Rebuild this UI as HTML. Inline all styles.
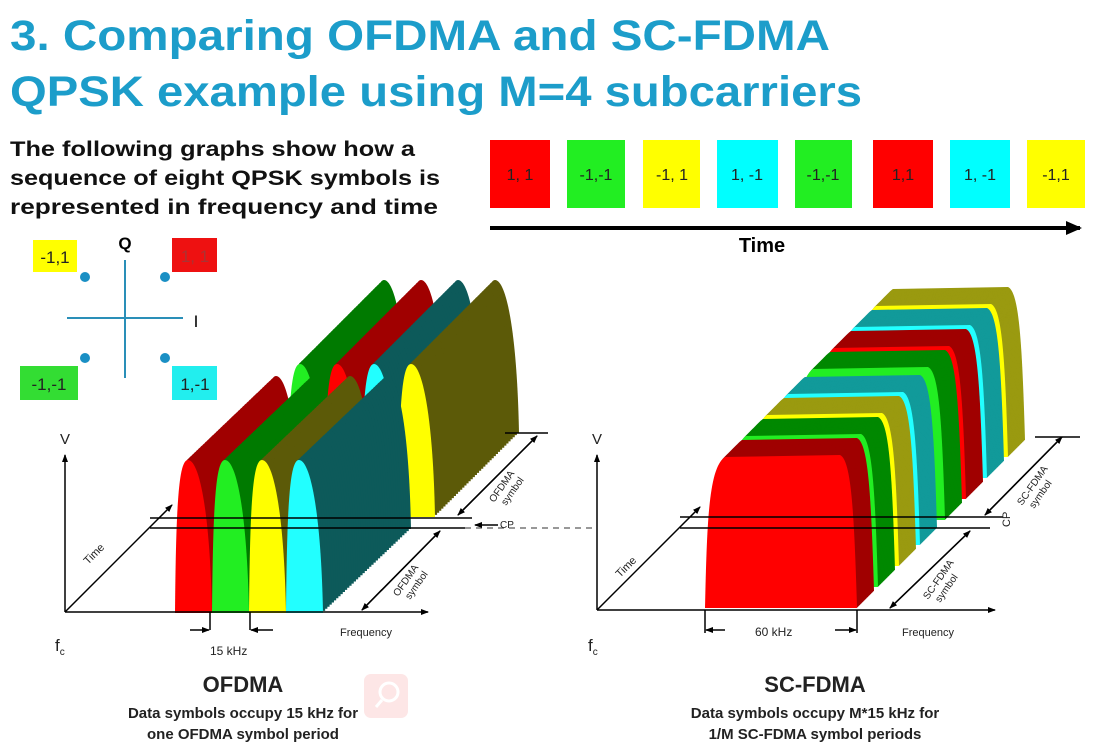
<!DOCTYPE html>
<html><head><meta charset="utf-8"><style>
body{margin:0;background:#fff;}
svg{display:block;}
</style></head><body>
<svg id="s" width="1099" height="747" xmlns="http://www.w3.org/2000/svg" font-family="Liberation Sans, sans-serif">
<defs>
<marker id="ar" markerWidth="8" markerHeight="8" refX="7" refY="4" orient="auto" markerUnits="userSpaceOnUse"><path d="M0,1 L8,4 L0,7 Z" fill="#000"/></marker>
<marker id="ar2" markerWidth="16" markerHeight="14" refX="14" refY="7" orient="auto" markerUnits="userSpaceOnUse"><path d="M0,0 L16,7 L0,14 Z" fill="#000"/></marker>
</defs>
<text x="10" y="50" font-size="43" font-weight="bold" fill="#1c9dca" textLength="820" lengthAdjust="spacingAndGlyphs">3. Comparing OFDMA and SC-FDMA</text>
<text x="10" y="106" font-size="43" font-weight="bold" fill="#1c9dca" textLength="852" lengthAdjust="spacingAndGlyphs">QPSK example using M=4 subcarriers</text>
<g font-size="21" font-weight="bold" fill="#111">
<text x="10" y="156" textLength="405" lengthAdjust="spacingAndGlyphs">The following graphs show how a</text>
<text x="10" y="185" textLength="430" lengthAdjust="spacingAndGlyphs">sequence of eight QPSK symbols is</text>
<text x="10" y="214" textLength="428" lengthAdjust="spacingAndGlyphs">represented in frequency and time</text>
</g>
<g font-size="16" fill="#222" text-anchor="middle">
<rect x="490" y="140" width="60" height="68" fill="#ff0000"/><text x="520" y="180">1, 1</text>
<rect x="567" y="140" width="58" height="68" fill="#22ee22"/><text x="596" y="180">-1,-1</text>
<rect x="643" y="140" width="57" height="68" fill="#ffff00"/><text x="672" y="180">-1, 1</text>
<rect x="717" y="140" width="61" height="68" fill="#00ffff"/><text x="747" y="180">1, -1</text>
<rect x="795" y="140" width="57" height="68" fill="#22ee22"/><text x="823" y="180">-1,-1</text>
<rect x="873" y="140" width="60" height="68" fill="#ff0000"/><text x="903" y="180">1,1</text>
<rect x="950" y="140" width="60" height="68" fill="#00ffff"/><text x="980" y="180">1, -1</text>
<rect x="1027" y="140" width="58" height="68" fill="#ffff00"/><text x="1056" y="180">-1,1</text>
</g>
<line x1="490" y1="228" x2="1080" y2="228" stroke="#000" stroke-width="4" marker-end="url(#ar2)"/>
<text x="762" y="252" font-size="20" font-weight="bold" text-anchor="middle">Time</text>
<g font-size="17" fill="#222" text-anchor="middle">
<rect x="33" y="240" width="44" height="32" fill="#ffff00"/><text x="55" y="263">-1,1</text>
<rect x="172" y="238" width="45" height="34" fill="#ee1111"/><text x="195" y="262" fill="#aa3333">1, 1</text>
<rect x="20" y="366" width="58" height="34" fill="#33dd33"/><text x="49" y="390">-1,-1</text>
<rect x="172" y="366" width="45" height="34" fill="#22eeee"/><text x="195" y="390">1,-1</text>
</g>
<line x1="125" y1="260" x2="125" y2="378" stroke="#2a8fb8" stroke-width="2"/>
<line x1="67" y1="318" x2="183" y2="318" stroke="#2a8fb8" stroke-width="2"/>
<g fill="#1a8fc4"><circle cx="85" cy="277" r="5"/><circle cx="165" cy="277" r="5"/><circle cx="85" cy="358" r="5"/><circle cx="165" cy="358" r="5"/></g>
<text x="125" y="249" font-size="17" font-weight="bold" text-anchor="middle">Q</text>
<text x="196" y="327" font-size="17" text-anchor="middle">I</text>
<g id="ofdm"></g>
<g id="scf"></g>
<g stroke="#000" stroke-width="1.5" fill="none">
<line x1="65" y1="612" x2="65" y2="455" marker-end="url(#ar)"/>
<line x1="65" y1="612" x2="428" y2="612" marker-end="url(#ar)"/>
<line x1="65" y1="612" x2="172" y2="505" marker-end="url(#ar)"/>
<line x1="150" y1="518" x2="472" y2="518"/>
<line x1="150" y1="528" x2="465" y2="528"/>
<line x1="465" y1="528" x2="595" y2="528" stroke="#777" stroke-dasharray="6,5"/>
<line x1="362" y1="610" x2="440" y2="531" marker-end="url(#ar)"/>
<line x1="440" y1="531" x2="362" y2="610" marker-end="url(#ar)"/>
<line x1="458" y1="515" x2="537" y2="436" marker-end="url(#ar)"/>
<line x1="537" y1="436" x2="458" y2="515" marker-end="url(#ar)"/>
<line x1="505" y1="433" x2="548" y2="433"/>
<line x1="210" y1="612" x2="210" y2="630"/><line x1="190" y1="630" x2="209" y2="630" marker-end="url(#ar)"/>
<line x1="250" y1="612" x2="250" y2="630"/><line x1="273" y1="630" x2="251" y2="630" marker-end="url(#ar)"/>
<line x1="498" y1="525" x2="475" y2="525" marker-end="url(#ar)"/>
</g>
<g font-size="11" fill="#222">
<text x="65" y="444" font-size="15" text-anchor="middle">V</text>
<text x="55" y="651" font-size="17">f<tspan font-size="10" dy="4">c</tspan></text>
<text x="210" y="655" font-size="12">15 kHz</text>
<text x="340" y="636">Frequency</text>
<text x="500" y="528" font-size="10">CP</text>
<text transform="translate(88,565) rotate(-45)">Time</text>
<text transform="translate(398,597) rotate(-55)" font-size="10">OFDMA</text>
<text transform="translate(410,600) rotate(-55)" font-size="10">symbol</text>
<text transform="translate(494,503) rotate(-55)" font-size="10">OFDMA</text>
<text transform="translate(506,506) rotate(-55)" font-size="10">symbol</text>
</g>
<g stroke="#000" stroke-width="1.5" fill="none">
<line x1="597" y1="610" x2="597" y2="455" marker-end="url(#ar)"/>
<line x1="597" y1="610" x2="995" y2="610" marker-end="url(#ar)"/>
<line x1="597" y1="610" x2="700" y2="507" marker-end="url(#ar)"/>
<line x1="680" y1="517" x2="1003" y2="517"/>
<line x1="680" y1="528" x2="990" y2="528"/>
<line x1="890" y1="608" x2="970" y2="531" marker-end="url(#ar)"/>
<line x1="970" y1="531" x2="890" y2="608" marker-end="url(#ar)"/>
<line x1="985" y1="515" x2="1062" y2="437" marker-end="url(#ar)"/>
<line x1="1062" y1="437" x2="985" y2="515" marker-end="url(#ar)"/>
<line x1="1035" y1="437" x2="1080" y2="437"/>
<line x1="705" y1="610" x2="705" y2="633"/><line x1="725" y1="630" x2="706" y2="630" marker-end="url(#ar)"/>
<line x1="857" y1="610" x2="857" y2="633"/><line x1="835" y1="630" x2="856" y2="630" marker-end="url(#ar)"/>
</g>
<g font-size="11" fill="#222">
<text x="597" y="444" font-size="15" text-anchor="middle">V</text>
<text x="588" y="651" font-size="17">f<tspan font-size="10" dy="4">c</tspan></text>
<text x="755" y="636" font-size="12">60 kHz</text>
<text x="902" y="636">Frequency</text>
<text transform="translate(1010,527) rotate(-90)" font-size="11">CP</text>
<text transform="translate(620,578) rotate(-45)">Time</text>
<text transform="translate(928,600) rotate(-55)" font-size="10">SC-FDMA</text>
<text transform="translate(940,603) rotate(-55)" font-size="10">symbol</text>
<text transform="translate(1022,506) rotate(-55)" font-size="10">SC-FDMA</text>
<text transform="translate(1034,509) rotate(-55)" font-size="10">symbol</text>
</g>
<g font-weight="bold" fill="#222" text-anchor="middle">
<text x="243" y="692" font-size="22">OFDMA</text>
<text x="243" y="718" font-size="15">Data symbols occupy 15 kHz for</text>
<text x="243" y="739" font-size="15">one OFDMA symbol period</text>
<text x="815" y="692" font-size="22">SC-FDMA</text>
<text x="815" y="718" font-size="15">Data symbols occupy M*15 kHz for</text>
<text x="815" y="739" font-size="15">1/M SC-FDMA symbol periods</text>
</g>
<rect x="364" y="674" width="44" height="44" rx="7" fill="#fde6e6"/>
<circle cx="389" cy="692" r="9" fill="none" stroke="#fff" stroke-width="3"/>
<line x1="382" y1="700" x2="376" y2="707" stroke="#fff" stroke-width="3"/>
</svg>
<script>
var NS="http://www.w3.org/2000/svg";
function P(g,d,f){var p=document.createElementNS(NS,"path");p.setAttribute("d",d);p.setAttribute("fill",f);g.appendChild(p);}
function bump(x,B,T,w){return "M"+x+","+B+" C"+(x+1)+","+(T+40)+" "+(x+4)+","+T+" "+(x+13)+","+T+" C"+(x+24)+","+T+" "+(x+w-2)+","+(T+50)+" "+(x+w)+","+B+" Z";}
function sweep(g,fn,dx,dy,col){var n=40;for(var i=n;i>=1;i--){var t=i/n;var p=document.createElementNS(NS,"path");p.setAttribute("d",fn());p.setAttribute("fill",col);p.setAttribute("transform","translate("+(dx*t)+","+(dy*t)+")");g.appendChild(p);}}
var g=document.getElementById("ofdm");
var dark={r:"#a00000",g:"#007a00",y:"#5c5a08",c:"#0d5a5a"};
var bright={r:"#ff0000",g:"#22ee22",y:"#ffff00",c:"#22ffff"};
function set(x0,B,order,dx,dy){var T=B-153;
 order.forEach(function(k,i){var x=x0+37*i;sweep(g,function(){return bump(x,B,T,37);},dx,dy,dark[k]);});
 order.forEach(function(k,i){var x=x0+37*i;P(g,bump(x,B,T,37),bright[k]);});}
set(287,517,["g","r","c","y"],84,-84);
set(175,613,["r","g","y","c"],88,-84);
var s=document.getElementById("scf");
function blk(x,B){return "M"+x+","+B+" C"+(x+2)+","+(B-90)+" "+(x+4)+","+(B-140)+" "+(x+20)+","+(B-151)+" L"+(x+135)+","+(B-153)+" C"+(x+146)+","+(B-148)+" "+(x+149)+","+(B-100)+" "+(x+152)+","+B+" Z";}
var seq=["r","g","y","c","g","r","c","y"];
var sd={r:"#a00000",g:"#008800",y:"#9a9a10",c:"#129a9a"};
for(var i=7;i>=0;i--){var ox=705+i*21,oy=608-i*21;if(i>=4){ox+=4;oy-=4;}
 (function(ox,oy,k){sweep(s,function(){return blk(ox,oy);},17,-17,sd[k]);P(s,blk(ox,oy),bright[k]);})(ox,oy,seq[i]);}
</script>
</body></html>
